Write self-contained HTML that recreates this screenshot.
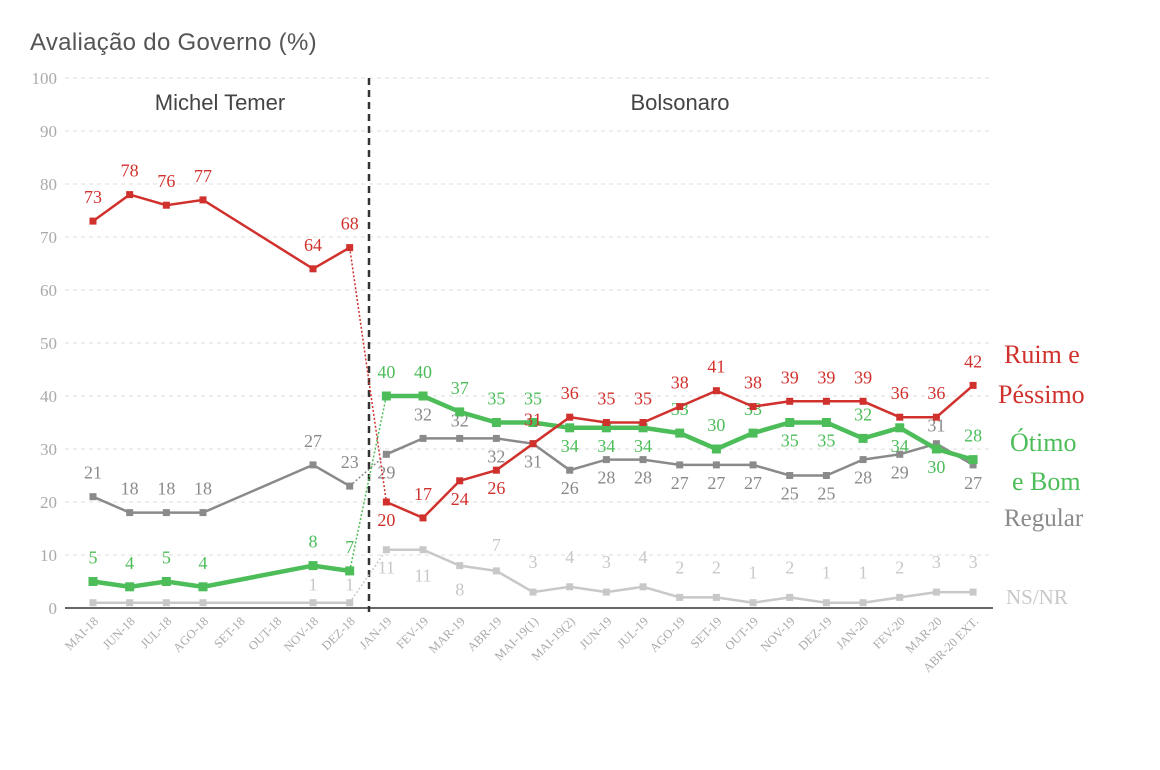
<!DOCTYPE html>
<html><head><meta charset="utf-8"><style>
body{margin:0;background:#fff;}
svg{display:block;font-family:"Liberation Serif","DejaVu Serif",serif;}
</style></head><body>
<svg id="s" width="1160" height="770" viewBox="0 0 1160 770" xmlns="http://www.w3.org/2000/svg">
<text x="30" y="50" font-size="24" fill="#555" font-family="Liberation Sans, sans-serif" letter-spacing="0.3">Avaliação do Governo (%)</text>
</svg>
<script>
var s=document.getElementById('s'),NS='http://www.w3.org/2000/svg';
function el(t,a,txt){var e=document.createElementNS(NS,t);for(var k in a)e.setAttribute(k,a[k]);if(txt!=null)e.textContent=txt;s.appendChild(e);return e;}
function X(i){return 93+i*36.67;}function Y(v){return 608-v*5.3;}
for(var v=0;v<=100;v+=10){
 if(v>0)el('line',{x1:65,x2:993,y1:Y(v),y2:Y(v),stroke:'#ddd','stroke-dasharray':'4,4','stroke-width':1});
 el('text',{x:57,y:Y(v)+6,'font-size':17,fill:'#aaa','text-anchor':'end'},v);
}
el('line',{x1:65,x2:993,y1:608,y2:608,stroke:'#666','stroke-width':2});
var cats=['MAI-18','JUN-18','JUL-18','AGO-18','SET-18','OUT-18','NOV-18','DEZ-18','JAN-19','FEV-19','MAR-19','ABR-19','MAI-19(1)','MAI-19(2)','JUN-19','JUL-19','AGO-19','SET-19','OUT-19','NOV-19','DEZ-19','JAN-20','FEV-20','MAR-20','ABR-20 EXT.'];
cats.forEach(function(c,i){var x=X(i)+6,y=622;el('text',{x:x,y:y,'font-size':12.5,fill:'#aaa','text-anchor':'end',transform:'rotate(-45 '+x+' '+y+')'},c);});
el('line',{x1:369,x2:369,y1:78,y2:612,stroke:'#333','stroke-width':2.5,'stroke-dasharray':'7,5'});
el('text',{x:220,y:110,'font-size':22,fill:'#444','text-anchor':'middle','font-family':'Liberation Sans, sans-serif'},'Michel Temer');
el('text',{x:680,y:110,'font-size':22,fill:'#444','text-anchor':'middle','font-family':'Liberation Sans, sans-serif'},'Bolsonaro');
var T=[0,1,2,3,6,7];
function series(col,w,tv,bv,tl,bl){
 var pt=T.map(function(i,k){return [X(i),Y(tv[k])];});
 var pb=bv.map(function(v,k){return [X(k+8),Y(v)];});
 el('polyline',{points:pt.join(' '),fill:'none',stroke:col,'stroke-width':w});
 el('line',{x1:pt[5][0],y1:pt[5][1],x2:pb[0][0],y2:pb[0][1],stroke:col,'stroke-width':1.5,'stroke-dasharray':'2,2'});
 el('polyline',{points:pb.join(' '),fill:'none',stroke:col,'stroke-width':w});
 var sq=w>3?9:7;
 pt.concat(pb).forEach(function(p){el('rect',{x:p[0]-sq/2,y:p[1]-sq/2,width:sq,height:sq,fill:col});});
 pt.forEach(function(p,k){if(tl[k]!=null)el('text',{x:p[0],y:p[1]+tl[k],'font-size':18,fill:col,'text-anchor':'middle'},tv[k]);});
 pb.forEach(function(p,k){el('text',{x:p[0],y:p[1]+bl[k],'font-size':18,fill:col,'text-anchor':'middle'},bv[k]);});
}
var U=-12,D=24;
series('#c8c8c8',2.5,[1,1,1,1,1,1],[11,11,8,7,3,4,3,4,2,2,1,2,1,1,2,3,3],[null,null,null,null,-12,-12],[D,D+8,D+6,-20,U-12,U-12,U-12,U-12,U-12,U-12,U-12,U-12,U-12,U-12,U-12,U-12,U-12]);
series('#8a8a8a',2.5,[21,18,18,18,27,23],[29,32,32,32,31,26,28,28,27,27,27,25,25,28,29,31,27],[U-6,U-6,U-6,U-6,U-6,U-6],[D,U-6,U,D,D,D,D,D,D,D,D,D,D,D,D,U,D]);
series('#4dbd5a',4.5,[5,4,5,4,8,7],[40,40,37,35,35,34,34,34,33,30,33,35,35,32,34,30,28],[U-6,U-6,U-6,U-6,U-6,U-6],[U-6,U-6,U-6,U-6,U-6,D,D,D,U-6,U-6,U-6,D,D,U-6,D,D,U-6]);
series('#d0312d',2.5,[73,78,76,77,64,68],[20,17,24,26,31,36,35,35,38,41,38,39,39,39,36,36,42],[U-6,U-6,U-6,U-6,U-6,U-6],[D,U-6,D,D,U-6,U-6,U-6,U-6,U-6,U-6,U-6,U-6,U-6,U-6,U-6,U-6,U-6]);
el('text',{x:1004,y:363,'font-size':26,fill:'#d0312d'},'Ruim e');
el('text',{x:998,y:403,'font-size':26,fill:'#d0312d'},'Péssimo');
el('text',{x:1010,y:451,'font-size':26,fill:'#4dbd5a'},'Ótimo');
el('text',{x:1012,y:490,'font-size':26,fill:'#4dbd5a'},'e Bom');
el('text',{x:1004,y:526,'font-size':25,fill:'#8a8a8a'},'Regular');
el('text',{x:1006,y:604,'font-size':21,fill:'#c8c8c8'},'NS/NR');
</script>
</body></html>
